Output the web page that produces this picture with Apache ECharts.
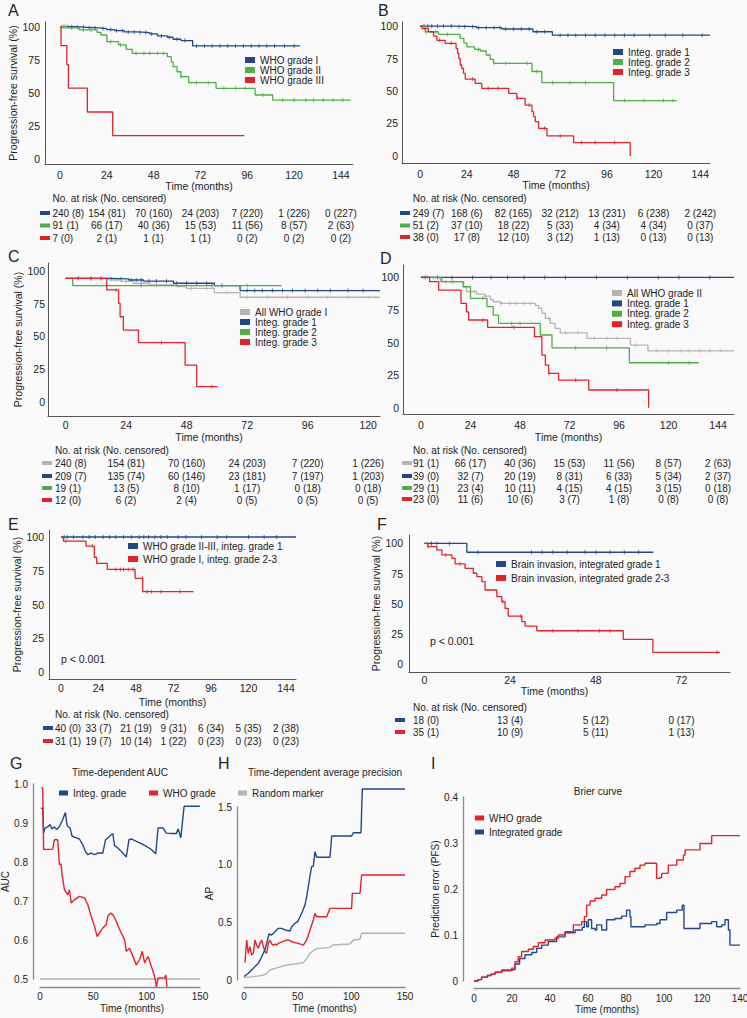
<!DOCTYPE html>
<html>
<head>
<meta charset="utf-8">
<script src="https://cdn.jsdelivr.net/npm/echarts@6/dist/echarts.min.js"></script>
<style>
html,body{margin:0;padding:0;background:#fafafa;}
#main{width:747px;height:1018px;}
</style>
</head>
<body>
<div id="main"></div>
<script>
// ---- data ----
var t144 = [0, 24, 48, 72, 96, 120, 144];
var t120 = [0, 24, 48, 72, 96, 120];
var t72 = [0, 24, 48, 72];
var kmY = [0, 25, 50, 75, 100];
var gX = [0, 50, 100, 150];
var gY = [0.5, 0.6, 0.7, 0.8, 0.9, 1.0];
var hY = [0, 0.5, 1.0, 1.5];
var iX = [0, 20, 40, 60, 80, 100, 120, 140];
var iY = [0, 0.1, 0.2, 0.3, 0.4];

// A
var aWho1 = [[0,100],[8,99.5],[14,99],[20,98.5],[24,97.8],[28,97],[33,96],[40,95.5],[46,94.5],[50,93],[55,92],[58,90.5],[62,89.5],[68,85.5],[123,85.5]];
var aWho2 = [[0,100],[4,99],[10,97.5],[19,95.7],[21,93.7],[24,88.7],[30,86.2],[34,82.9],[37,79.9],[55,77.4],[57,73.5],[58,69.8],[60,66],[62,62.3],[66,57.8],[80,53.5],[100,48.5],[109,44.7],[149,44.7]];
var aWho3 = [[0,100],[0.5,85.7],[3.5,71.4],[4.3,53.6],[14,35.7],[27,17.9],[94.5,17.9]];
var aCens1 = [2,4,6,9,12,15,18,22,26,29,32,35,38,41,44,47,52,56,60,64,70,74,78,82,86,90,94,98,102,106,110,115,120];
var aCens2 = [1,3,6,12,16,26,31,39,43,46,50,53,62,70,76,84,90,95,104,114,120,126,130,135,140,145];
var aRisk1 = ['240 (8)','154 (81)','70 (160)','24 (203)','7 (220)','1 (226)','0 (227)'];
var aRisk2 = ['91 (1)','66 (17)','40 (36)','15 (53)','11 (56)','8 (57)','2 (63)'];
var aRisk3 = ['7 (0)','2 (1)','1 (1)','1 (1)','0 (2)','0 (2)','0 (2)'];

// B
var bInt1 = [[0,100],[17,99.5],[29,98.7],[42,97.7],[58,95.6],[68,93],[149,93]];
var bInt2 = [[0,100],[2.6,95.6],[9.4,93.6],[20.6,90.5],[22.5,87],[24,84],[28,82],[31,80.8],[34,77.7],[36,74.4],[37.7,71.3],[57.5,65],[62.6,56.4],[99.5,42.6],[132,42.6]];
var bInt3 = [[0,100],[1,98],[4.3,95.6],[6.9,92.3],[8.6,89],[12.9,86.7],[18.5,82.8],[19.3,79],[19.9,75],[20.6,70],[21.4,67.4],[22.3,63.6],[23.2,59.2],[28.3,55.9],[31.7,52],[45.5,48.2],[49.7,44.4],[54,39.2],[57.5,34.1],[58.3,30.3],[59.2,26.4],[60.9,21.3],[65.2,15.4],[78.9,10.3],[108,0]];
var bCens1 = [2,4,6,9,12,16,20,23,27,30,34,38,41,44,48,52,56,60,64,72,76,80,85,90,95,100,105,110,118,126,135,145];
var bCens2 = [3,8,14,30,38,44,55,60,68,77,85,105,115,125,130];
var bCens3 = [10,16,27,35,40,50,56,64,72,83,90,100];
var bRisk1 = ['249 (7)','168 (6)','82 (165)','32 (212)','13 (231)','6 (238)','2 (242)'];
var bRisk2 = ['51 (2)','37 (10)','18 (22)','5 (33)','4 (34)','4 (34)','0 (37)'];
var bRisk3 = ['38 (0)','17 (8)','12 (10)','3 (12)','1 (13)','0 (13)','0 (13)'];

// C
var cWho1 = [[0,94.4],[10,94],[17.6,93.1],[22,92],[26.9,90.6],[33.5,89.3],[44,88],[48,86.7],[59,83.4],[69.2,79.9],[124.7,79.9]];
var cInt1 = [[0,94.4],[17.6,93.9],[25,93.1],[30.9,92.3],[42.8,90.6],[59,88.8],[69.2,85],[124.7,85]];
var cInt2 = [[0,94.4],[2.8,88.8],[85.7,88.8]];
var cInt3 = [[0,94.4],[16.3,85.5],[21,75.3],[21.6,65],[22.9,54.8],[28.9,45.2],[47.4,28],[52,11.5],[60.3,11.5]];
var cCens0 = [5,10,14,20,24,30,36,42,50,56,64,72,80,88,96,104,112,120];
var cCens1 = [5,10,14,18,22,26,28,30,33,36,40,44,48,52,56,62,72,75,78,82,86,90,95,100,105,112,118];
var cCens2 = [30,58,72];
var cCens3 = [20,38,58];
var cRisk0 = ['240 (8)','154 (81)','70 (160)','24 (203)','7 (220)','1 (226)'];
var cRisk1 = ['209 (7)','135 (74)','60 (146)','23 (181)','7 (197)','1 (203)'];
var cRisk2 = ['19 (1)','13 (5)','8 (10)','1 (17)','0 (18)','0 (18)'];
var cRisk3 = ['12 (0)','6 (2)','2 (4)','0 (5)','0 (5)','0 (5)'];

// D
var dWho2 = [[0,100],[4.5,99.5],[9.4,96.7],[20.7,92.8],[22,89],[27,87.2],[31,85.7],[33.6,83],[35,81.3],[38.4,80],[55.4,78.5],[57,76.2],[58.6,72.4],[60.3,68.5],[62.7,64.7],[65,60.9],[67.5,57.5],[80.5,53.2],[101.5,48],[110,43.7],[151.7,43.7]];
var dInt1 = [[0,100],[151.7,100]];
var dInt2 = [[0,100],[10,96.7],[20.4,92.8],[24,83.9],[32,77.5],[35,71],[37.6,64.7],[57.8,55.8],[63.5,46],[101,34.5],[134.6,34.5]];
var dInt3 = [[0,100],[4.2,96.7],[8.6,90.3],[19.4,80],[22,73.6],[23.1,67.3],[32.3,61.6],[55,54.5],[58.6,40.4],[60.3,32.7],[61.9,26.3],[66.7,21.2],[81.3,13.6],[110.3,0]];
var dCens0 = [1,3,6,12,16,26,31,39,43,46,50,53,62,70,76,84,90,95,104,114,120,126,130,135,140,145];
var dCens1 = [2,8,15,25,34,42,50,60,70,85,100,115,125,140];
var dCens2 = [15,30,44,48,75,90,120,130];
var dCens3 = [30,45,62,75,95];
var dRisk0 = ['91 (1)','66 (17)','40 (36)','15 (53)','11 (56)','8 (57)','2 (63)'];
var dRisk1 = ['39 (0)','32 (7)','20 (19)','8 (31)','6 (33)','5 (34)','2 (37)'];
var dRisk2 = ['29 (1)','23 (4)','10 (11)','4 (15)','4 (15)','3 (15)','0 (18)'];
var dRisk3 = ['23 (0)','11 (6)','10 (6)','3 (7)','1 (8)','0 (8)','0 (8)'];

// E
var eHigh1 = [[0,100],[150.4,100]];
var eLow23 = [[0,100],[1.5,97],[16,93.3],[21.3,85],[22.8,80.5],[29.6,76],[47.4,69.4],[52.3,59.5],[84.7,59.5]];
var eCens1 = [2,4,8,14,18,22,27,31,35,40,45,50,53,56,60,64,68,75,80,90,100,106,120,130,138];
var eCens2 = [3,20,35,38,40,43,46,52,55,58,64,76];
var eRisk1 = ['40 (0)','33 (7)','21 (19)','9 (31)','6 (34)','5 (35)','2 (38)'];
var eRisk2 = ['31 (1)','19 (7)','10 (14)','1 (22)','0 (23)','0 (23)','0 (23)'];

// F
var fInv1 = [[0,100],[11.9,92.7],[64.1,92.7]];
var fInv23 = [[0,100],[1,97.4],[3.5,94.6],[4.9,90.5],[7.7,87.7],[8.6,83],[11.4,79.4],[13.7,75.3],[14.7,72.5],[16.1,68.3],[17,61.4],[20.3,55.9],[21.7,51.7],[22.6,46.2],[23.5,39.8],[27.3,35.1],[28.2,31.5],[31.5,27.6],[55.7,20.5],[64,9.7],[82.8,9.7]];
var fCens1 = [2,3.5,7,15,30,33,36,40,45,48,52,56,60];
var fCens2 = [1,6,10,22,27,36,43,49,52,82];
var fRisk1 = ['18 (0)','13 (4)','5 (12)','0 (17)'];
var fRisk2 = ['35 (1)','10 (9)','5 (11)','1 (13)'];

// G  time-dependent AUC
var gInteg = [[0.9,0.938],[2.5,0.938],[3.4,0.874],[4.7,0.887],[7.2,0.89],[9.4,0.896],[11,0.885],[13.5,0.89],[15.7,0.883],[18.2,0.891],[21.3,0.909],[23.8,0.927],[25.4,0.893],[28.2,0.887],[30.1,0.866],[33.9,0.862],[37,0.859],[40.1,0.844],[42.6,0.827],[44.8,0.819],[48,0.823],[51.1,0.819],[54.2,0.823],[58.9,0.823],[61.4,0.857],[63.6,0.862],[66.8,0.87],[68.3,0.873],[69.9,0.842],[73,0.836],[77.7,0.823],[80.9,0.813],[83.4,0.857],[85.6,0.859],[90.3,0.853],[95,0.847],[99.7,0.84],[104.4,0.832],[108.5,0.821],[110.7,0.887],[115.4,0.887],[118.5,0.874],[123.2,0.873],[127.9,0.873],[129.5,0.885],[132,0.862],[135.1,0.943],[149.8,0.943]];
var gWho = [[0.9,0.99],[2.5,0.99],[3.4,0.832],[11.9,0.833],[13.5,0.857],[16.6,0.857],[18.2,0.793],[19.7,0.795],[20.7,0.768],[22.9,0.729],[26,0.716],[27.6,0.729],[29.2,0.695],[32.3,0.703],[37,0.712],[41.7,0.708],[44.8,0.691],[48,0.661],[51.1,0.635],[53.6,0.609],[55.8,0.618],[58.9,0.631],[62.1,0.639],[63.6,0.661],[66.1,0.669],[68.3,0.665],[71.5,0.648],[74.6,0.627],[79.3,0.601],[80.9,0.571],[84,0.579],[87.1,0.558],[90.3,0.536],[93.4,0.55],[95.9,0.571],[98.1,0.541],[101.3,0.558],[104.4,0.532],[107.5,0.507],[109.1,0.48],[110.7,0.503],[116.9,0.503],[117.9,0.51],[119.1,0.48]];
var gRandom = [[0,0.5],[150,0.5]];

// H  time-dependent average precision
var hInteg = [[0,0.03],[4,0.058],[7.1,0.087],[10.2,0.116],[13.4,0.145],[15.8,0.188],[18,0.231],[19.6,0.266],[21.1,0.318],[23.3,0.399],[25.8,0.39],[28.9,0.419],[32,0.448],[35.1,0.448],[38.2,0.434],[42.9,0.425],[44.4,0.462],[47.5,0.491],[50,0.506],[52.2,0.549],[54.3,0.592],[56.8,0.65],[58.4,0.723],[59.9,0.809],[61.5,0.902],[63,0.983],[64.6,0.988],[66.1,1.113],[67.7,1.064],[80.1,1.064],[81.7,1.249],[100.3,1.249],[101.9,1.277],[109,1.277],[110.2,1.656],[150,1.656]];
var hWho = [[0.9,0.15],[2.5,0.347],[4,0.231],[5.6,0.289],[7.1,0.217],[8.7,0.231],[10.2,0.347],[11.8,0.303],[13.4,0.275],[14.9,0.318],[16.5,0.347],[18,0.289],[19.6,0.246],[21.1,0.231],[22.7,0.318],[24.2,0.347],[25.8,0.312],[27.3,0.303],[28.9,0.312],[30.4,0.303],[32,0.318],[38.2,0.341],[41.3,0.347],[44.4,0.332],[50.6,0.318],[55.3,0.303],[58.4,0.347],[61.5,0.434],[64.6,0.52],[66.1,0.578],[67.7,0.549],[77,0.549],[80.1,0.621],[100.3,0.621],[100.9,0.751],[108.1,0.751],[109.6,0.91],[150,0.91]];
var hRandom = [[0,0.023],[10.2,0.029],[18,0.043],[21.1,0.058],[24.2,0.087],[32,0.11],[39.8,0.13],[47.5,0.139],[55.3,0.15],[58.4,0.188],[61.5,0.231],[64.6,0.254],[67.7,0.272],[80.1,0.283],[82.3,0.303],[98.8,0.312],[101.9,0.347],[108.1,0.353],[109.6,0.405],[150,0.405]];

// I  Brier curve
var iWho = [[0,0],[2,0.003],[4,0.008],[7,0.012],[9,0.015],[11.1,0.019],[14.6,0.022],[19.8,0.028],[21.6,0.042],[23.3,0.053],[25.1,0.064],[28.6,0.069],[31.2,0.075],[33.9,0.083],[37.4,0.089],[42.6,0.093],[44.4,0.1],[47.9,0.107],[52.3,0.122],[56.7,0.129],[58.1,0.14],[59.3,0.165],[61.1,0.174],[63.7,0.18],[67.2,0.187],[69.8,0.199],[74.2,0.205],[76.8,0.212],[79.5,0.227],[82.1,0.238],[84.7,0.245],[87.4,0.252],[90,0.256],[95.6,0.256],[96.1,0.223],[97.9,0.225],[98.8,0.234],[101.4,0.235],[102.3,0.252],[106.7,0.263],[110.2,0.274],[111.1,0.285],[118.9,0.299],[125.1,0.316],[140,0.316]];
var iInteg = [[0,0],[2,0.003],[4,0.008],[7,0.012],[9,0.015],[11.1,0.019],[14.6,0.024],[19.8,0.025],[21.6,0.037],[24,0.049],[26.8,0.057],[30.4,0.062],[33,0.071],[35.6,0.078],[39.1,0.086],[43.5,0.096],[47.9,0.105],[53.2,0.111],[57,0.117],[58.1,0.129],[59.3,0.118],[60.2,0.133],[61.9,0.114],[63.7,0.111],[64.6,0.122],[66.8,0.122],[67.2,0.111],[69.8,0.133],[74.2,0.136],[77.7,0.141],[80.3,0.154],[82.1,0.14],[82.6,0.118],[86.5,0.118],[90,0.122],[96.1,0.125],[97.9,0.133],[101.4,0.149],[106.7,0.154],[109.6,0.165],[110.5,0.114],[118.4,0.114],[118.9,0.125],[125.1,0.129],[127.7,0.118],[130.4,0.122],[132.1,0.133],[133.9,0.111],[134.7,0.078],[140,0.078]];

// ---- styling ----
var FONT = '"Liberation Sans", Arial, Helvetica, sans-serif';
var INK = '#222';
var BLUE = '#21498a', GREEN = '#4fae48', RED = '#e3232b', GRAY = '#b4b4b4';

var kmPanels = [
  {id:'A', box:[45,22,308,142], x:[-7.7,150.2], y:[-3.5,103.5], xt:t144, xm:5, ym:5, xg:14.5, yg:21.5,
   letter:[8,10], legend:[245,55,0],
   curves:[['WHO grade I',BLUE,aWho1,aCens1],['WHO grade II',GREEN,aWho2,aCens2],['WHO grade III',RED,aWho3,[]]],
   table:{tx:52.5, sw:40, hy:198, ry:[213,225.5,238], rows:[aRisk1,aRisk2,aRisk3]}},
  {id:'B', box:[402,22,308,141], x:[-9.3,149], y:[-5.4,103.1], xt:t144, xm:5, ym:4, xg:14.5, yg:0,
   letter:[378,10], legend:[613,47,0],
   curves:[['Integ. grade 1',BLUE,bInt1,bCens1],['Integ. grade 2',GREEN,bInt2,bCens2],['Integ. grade 3',RED,bInt3,bCens3]],
   table:{tx:412.7, sw:400, hy:198, ry:[213,225.5,237], rows:[bRisk1,bRisk2,bRisk3]}},
  {id:'C', box:[48,263,332,153], x:[-7,124.7], y:[-10.9,106.1], xt:t120, xm:3, ym:3, xg:15.5, yg:19.5, xpad:[0,10,0,0],
   letter:[8,256], legend:[240,307,0],
   curves:[['All WHO grade I',GRAY,cWho1,cCens0],['Integ. grade 1',BLUE,cInt1,cCens1],['Integ. grade 2',GREEN,cInt2,cCens2],['Integ. grade 3',RED,cInt3,cCens3]],
   table:{tx:55, sw:42, hy:450, ry:[463,476,488,500], rows:[cRisk0,cRisk1,cRisk2,cRisk3]}},
  {id:'D', box:[403,265,331,149], x:[-8.7,151.7], y:[-4.8,109.5], xt:t144, xm:5, ym:4, xg:17.5, yg:0,
   letter:[380,258], legend:[612,288,0.4],
   curves:[['All WHO grade II',GRAY,dWho2,dCens0],['Integ. grade 1',BLUE,dInt1,dCens1],['Integ. grade 2',GREEN,dInt2,dCens2],['Integ. grade 3',RED,dInt3,dCens3]],
   table:{tx:413, sw:402, hy:450, ry:[463,476,488,499], rows:[dRisk0,dRisk1,dRisk2,dRisk3]}},
  {id:'E', box:[49,530,247,149], x:[-7.7,150.4], y:[-5.2,105.2], xt:t144, xm:3, ym:5, xg:17.5, yg:24.5,
   letter:[8,524], legend:[128,541,3], p:[61,659],
   curves:[['WHO grade II-III, integ. grade 1',BLUE,eHigh1,eCens1],['WHO grade I, integ. grade 2-3',RED,eLow23,eCens2]],
   table:{tx:55, sw:43, hy:714, ry:[728,741], rows:[eRisk1,eRisk2]}},
  {id:'F', box:[409,535,321,137], x:[-4.3,85.6], y:[-6.6,107], xt:t72, xm:2, ym:6, xg:13.5, yg:22.5, xpad:[0,30,0,0],
   letter:[377,524], legend:[496,559,4], p:[430,641],
   curves:[['Brain invasion, integrated grade 1',BLUE,fInv1,fCens1],['Brain invasion, integrated grade 2-3',RED,fInv23,fCens2]],
   table:{tx:413, sw:395, hy:707, ry:[720,732], rows:[fRisk1,fRisk2]}}
];

function stepAt(curve, t) {
  var v = curve[0][1];
  for (var k = 0; k < curve.length; k++) { if (curve[k][0] <= t) v = curve[k][1]; }
  return v;
}
function lbl(size) { return {fontSize:size, color:INK, fontFamily:FONT}; }
function dec(v) { return v === 0 ? '0' : v.toFixed(1); }

var option = {
  backgroundColor:'#fafafa', animation:false, textStyle:{fontFamily:FONT},
  grid:[], xAxis:[], yAxis:[], legend:[], series:[]
};

kmPanels.forEach(function (p, i) {
  option.grid.push({left:p.box[0], top:p.box[1], width:p.box[2], height:p.box[3], containLabel:false, outerBoundsMode:'none'});
  option.xAxis.push({
    type:'value', gridIndex:i, min:p.x[0], max:p.x[1],
    axisLine:{show:true, onZero:false, lineStyle:{color:'#555', width:1}},
    axisTick:{show:false}, splitLine:{show:false},
    axisLabel:Object.assign({customValues:p.xt, margin:p.xm}, lbl(10.5)),
    name:'Time (months)', nameLocation:'middle', nameGap:p.xg,
    nameTextStyle:Object.assign({padding:p.xpad || 0}, lbl(10.5))
  });
  option.yAxis.push({
    type:'value', gridIndex:i, min:p.y[0], max:p.y[1],
    axisLine:{show:true, onZero:false, lineStyle:{color:'#555', width:1}},
    axisTick:{show:false}, splitLine:{show:false},
    axisLabel:Object.assign({customValues:kmY, margin:p.ym}, lbl(10.5)),
    name:p.yg ? 'Progression-free survival (%)' : '', nameLocation:'middle', nameGap:p.yg,
    nameTextStyle:lbl(10.5)
  });
  var names = [];
  p.curves.forEach(function (c) {
    names.push(c[0]);
    option.series.push({
      type:'line', name:c[0], xAxisIndex:i, yAxisIndex:i, data:c[2], step:'end',
      symbol:'none', lineStyle:{color:c[1], width:1.3}, itemStyle:{color:c[1]}
    });
    if (c[3].length) {
      option.series.push({
        type:'scatter', xAxisIndex:i, yAxisIndex:i, silent:true, symbol:'rect', symbolSize:[1, 4],
        itemStyle:{color:c[1]},
        data:c[3].map(function (t) { return [t, stepAt(c[2], t)]; })
      });
    }
  });
  option.legend.push({
    left:p.legend[0], top:p.legend[1], orient:'vertical', padding:0, itemGap:p.legend[2],
    icon:'rect', itemWidth:10, itemHeight:6, selectedMode:false, data:names,
    textStyle:Object.assign({lineHeight:10}, lbl(10))
  });
});

// G, H, I panels
var perfPanels = [
  {box:[40,784,160,195], x:[0,150], y:[0.5,1.0], xt:gX, yt:gY, yo:7, xo:8, xm:4, ym:5, xg:16.5, yg:19.5,
   yName:'AUC', xpad:[0,0,0,24], step:false,
   curves:[['Random marker',GRAY,gRandom,1.6],['Integ. grade',BLUE,gInteg,1.4],['WHO grade',RED,gWho,1.4]]},
  {box:[244,807,161,173], x:[0,150], y:[0,1.5], xt:gX, yt:hY, yo:7, xo:7, xm:4, ym:5, xg:16.5, yg:18.5,
   yName:'AP', step:false,
   curves:[['Random marker',GRAY,hRandom,1.4],['WHO grade',RED,hWho,1.4],['Integ. grade',BLUE,hInteg,1.4]]},
  {box:[474,797,266,184], x:[0,140], y:[0,0.4], xt:iX, yt:iY, yo:11, xo:7, xm:5, ym:5, xg:16.5, yg:22.5,
   yName:'Prediction error (PFS)', step:true,
   curves:[['Integrated grade',BLUE,iInteg,1.4],['WHO grade',RED,iWho,1.4]]}
];

perfPanels.forEach(function (p, j) {
  var i = kmPanels.length + j;
  option.grid.push({left:p.box[0], top:p.box[1], width:p.box[2], height:p.box[3], containLabel:false, outerBoundsMode:'none'});
  option.xAxis.push({
    type:'value', gridIndex:i, min:p.x[0], max:p.x[1], offset:p.xo,
    axisLine:{show:true, onZero:false, lineStyle:{color:'#8c8c8c', width:1.3}},
    axisTick:{show:false}, splitLine:{show:false},
    axisLabel:Object.assign({customValues:p.xt, margin:p.xm}, lbl(10)),
    name:'Time (months)', nameLocation:'middle', nameGap:p.xg,
    nameTextStyle:Object.assign({padding:p.xpad || 0}, lbl(10))
  });
  option.yAxis.push({
    type:'value', gridIndex:i, min:p.y[0], max:p.y[1], offset:p.yo,
    axisLine:{show:true, onZero:false, lineStyle:{color:'#8c8c8c', width:1.3}},
    axisTick:{show:false}, splitLine:{show:false},
    axisLabel:Object.assign({customValues:p.yt, margin:p.ym, formatter:dec}, lbl(10)),
    name:p.yName, nameLocation:'middle', nameGap:p.yg, nameTextStyle:lbl(10)
  });
  p.curves.forEach(function (c) {
    option.series.push({
      type:'line', name:c[0], xAxisIndex:i, yAxisIndex:i, data:c[2], step:p.step ? 'end' : false,
      symbol:'none', clip:false, lineStyle:{color:c[1], width:c[3]}, itemStyle:{color:c[1]}
    });
  });
});

function smallLegend(left, top, names, gap) {
  return {left:left, top:top, orient:'vertical', padding:0, itemGap:gap || 0, icon:'rect',
    itemWidth:9, itemHeight:5, selectedMode:false, data:names,
    textStyle:Object.assign({lineHeight:10}, lbl(10))};
}
option.legend.push(smallLegend(59, 788, ['Integ. grade']));
option.legend.push(smallLegend(149, 788, ['WHO grade']));
option.legend.push(smallLegend(238, 788, ['Random marker']));
option.legend.push(smallLegend(475, 813, ['WHO grade', 'Integrated grade'], 4));

var chart = echarts.init(document.getElementById('main'), null, {renderer:'svg'});
chart.setOption(option);

// ---- texts: panel letters, titles, p values, at-risk tables ----
function txt(x, y, s, size, align) {
  return {type:'text', x:x, y:y, silent:true,
    style:{text:s, fill:INK, fontSize:size, fontFamily:FONT, align:align || 'left', verticalAlign:'middle'}};
}
var g = [];
kmPanels.forEach(function (p, i) {
  g.push(txt(p.letter[0], p.letter[1], p.id, 16));
  if (p.p) g.push(txt(p.p[0], p.p[1], 'p < 0.001', 10.5));
  var tb = p.table;
  g.push(txt(tb.tx, tb.hy, 'No. at risk (No. censored)', 10));
  tb.rows.forEach(function (row, r) {
    var col = p.curves[r][1];
    g.push({type:'rect', silent:true, shape:{x:tb.sw, y:tb.ry[r] - 2, width:10, height:4}, style:{fill:col}});
    row.forEach(function (s, k) {
      if (k === 0) {
        g.push(txt(tb.tx, tb.ry[r], s, 10));
      } else {
        var px = chart.convertToPixel({xAxisIndex:i}, p.xt[k]);
        g.push(txt(px, tb.ry[r], s, 10, 'center'));
      }
    });
  });
});
g.push(txt(10, 763, 'G', 16));
g.push(txt(218, 763, 'H', 16));
g.push(txt(431, 763, 'I', 16));
g.push(txt(120, 772, 'Time-dependent AUC', 10, 'center'));
g.push(txt(325, 772, 'Time-dependent average precision', 10, 'center'));
g.push(txt(598, 791, 'Brier curve', 10, 'center'));

chart.setOption({graphic:g});
</script>
</body>
</html>
